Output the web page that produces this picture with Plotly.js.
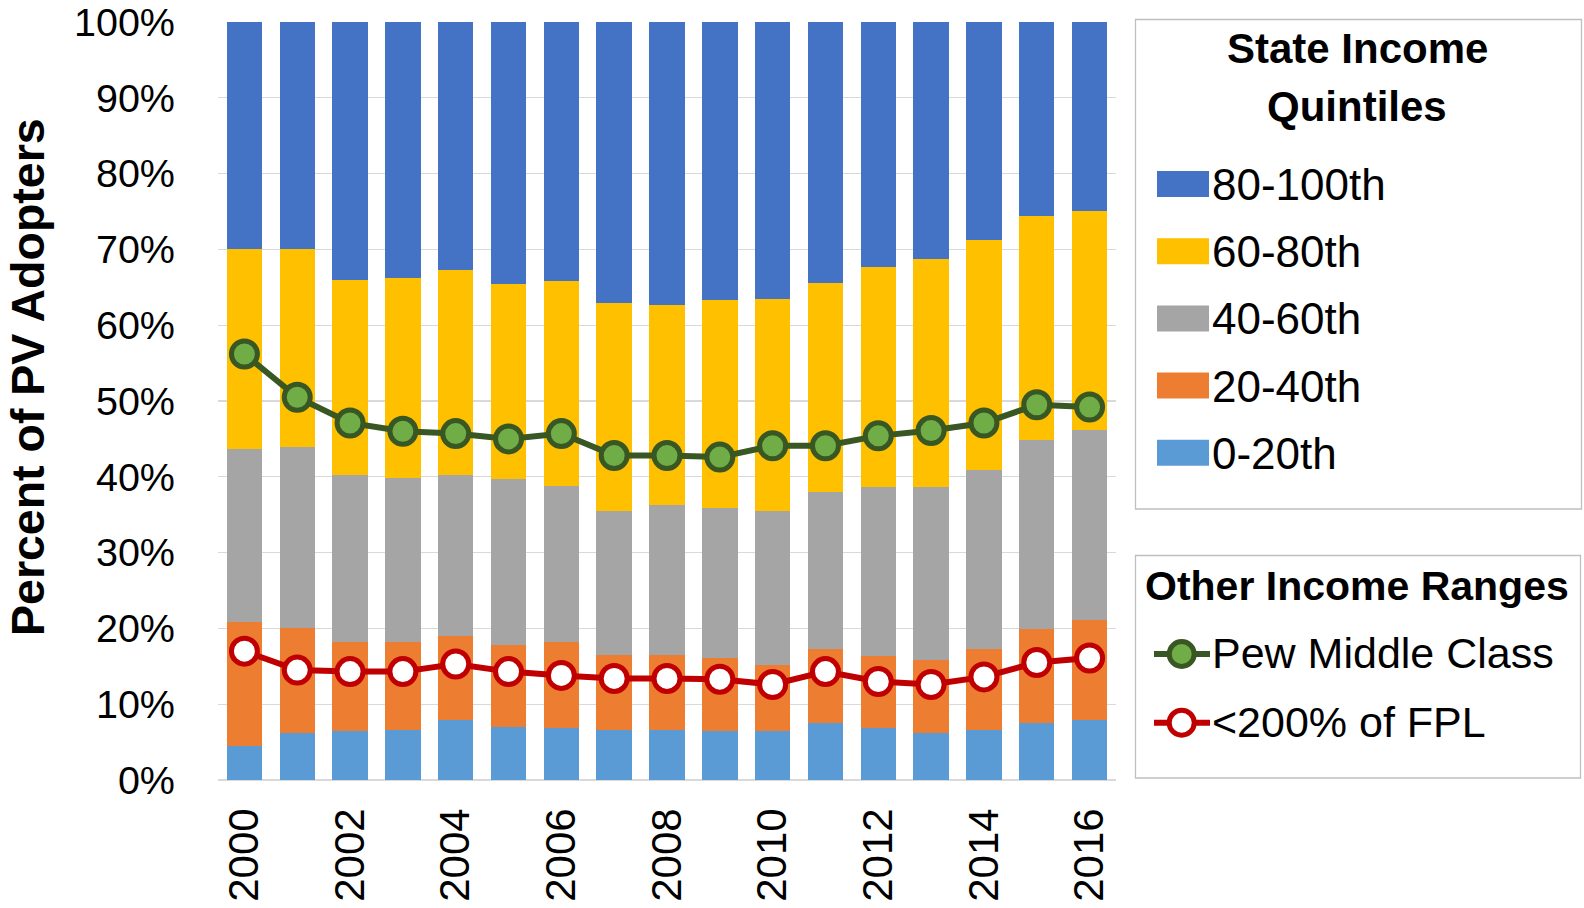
<!DOCTYPE html>
<html>
<head>
<meta charset="utf-8">
<script src="https://cdn.plot.ly/plotly-3.0.1.min.js"></script>
<style>html,body{margin:0;padding:0;background:#fff;}#chart{width:1584px;height:908px;}</style>
</head>
<body>
<div id="chart"></div>
<script>
// ---- data (percent of PV adopters) ----
const years = [2000,2001,2002,2003,2004,2005,2006,2007,2008,2009,2010,2011,2012,2013,2014,2015,2016];
const q0_20   = [4.5,6.2,6.4,6.6,7.9,7.0,6.8,6.6,6.6,6.4,6.4,7.5,6.8,6.2,6.6,7.5,7.9];
const q20_40  = [16.4,13.8,11.8,11.6,11.1,10.8,11.4,9.9,9.9,9.7,8.8,9.8,9.5,9.6,10.7,12.4,13.2];
const q40_60  = [22.8,23.9,22.1,21.7,21.3,21.9,20.6,19.0,19.8,19.8,20.3,20.7,22.3,22.8,23.6,24.9,25.1];
const q60_80  = [26.3,26.1,25.7,26.3,27.0,25.7,27.0,27.4,26.4,27.4,28.0,27.6,29.1,30.2,30.4,29.6,28.9];
const q80_100 = [30.0,30.0,34.0,33.8,32.7,34.6,34.2,37.1,37.3,36.7,36.5,34.4,32.3,31.2,28.7,25.6,24.9];
const pewMiddle = [56.2,50.5,47.1,46.0,45.7,45.0,45.7,42.8,42.8,42.6,44.1,44.1,45.4,46.1,47.1,49.5,49.2];
const fpl200    = [17.0,14.5,14.3,14.3,15.3,14.3,13.8,13.4,13.4,13.3,12.6,14.3,13.0,12.6,13.6,15.5,16.1];

const quintileNames = ['0-20th','20-40th','40-60th','60-80th','80-100th'];
const quintileValues = [q0_20, q20_40, q40_60, q60_80, q80_100];
const quintileColors = ['#5B9BD5','#ED7D31','#A5A5A5','#FFC000','#4472C4'];
const lineNames = ['Pew Middle Class','<200% of FPL'];
const legend1Title = ['State Income','Quintiles'];
const legend2Title = 'Other Income Ranges';
const yTitle = 'Percent of PV Adopters';

// ---- layout geometry ----
const W = 1584, H = 908;
const M = {l:218, r:468, t:22, b:128};
const PW = W - M.l - M.r, PH = H - M.t - M.b;
const px = x => (x - M.l) / PW;
const py = y => (H - M.b - y) / PH;
const FONT = 'Liberation Sans, Arial, sans-serif';

const traces = [];
quintileNames.forEach((n, i) => {
  traces.push({
    type:'bar', name:n, x:years, y:quintileValues[i],
    marker:{color:quintileColors[i], line:{width:0}},
    showlegend:false, hoverinfo:'x+y+name'
  });
});
traces.push({
  type:'scatter', mode:'lines+markers', name:lineNames[0], x:years, y:pewMiddle,
  line:{color:'#385723', width:6},
  marker:{size:26, color:'#70AD47', line:{color:'#385723', width:5}},
  showlegend:false
});
traces.push({
  type:'scatter', mode:'lines+markers', name:lineNames[1], x:years, y:fpl200,
  line:{color:'#C00000', width:6},
  marker:{size:26, color:'#FFFFFF', line:{color:'#C00000', width:5}},
  showlegend:false
});

// ---- custom legends (paper coordinates) ----
const shapes = [];
const annotations = [];
shapes.push({type:'rect', xref:'paper', yref:'paper', x0:px(1135.5), x1:px(1581.5), y0:py(19.5), y1:py(509),
  line:{color:'#BFBFBF', width:1.3}, fillcolor:'rgba(0,0,0,0)'});
shapes.push({type:'rect', xref:'paper', yref:'paper', x0:px(1135.5), x1:px(1580.5), y0:py(555.5), y1:py(778),
  line:{color:'#BFBFBF', width:1.3}, fillcolor:'rgba(0,0,0,0)'});
[[legend1Title[0], 48], [legend1Title[1], 106]].forEach(([t, y]) => {
  annotations.push({xref:'paper', yref:'paper', x:px(1357), y:py(y), xanchor:'center', yanchor:'middle',
    text:t, showarrow:false, font:{family:FONT, size:42, color:'#000', weight:'bold'}});
});
for (let k = 0; k < 5; k++) {
  const i = 4 - k;
  const cy = 184 + 67.2 * k;
  shapes.push({type:'rect', xref:'paper', yref:'paper', x0:px(1157), x1:px(1209), y0:py(cy - 13), y1:py(cy + 13),
    line:{width:0}, fillcolor:quintileColors[i]});
  annotations.push({xref:'paper', yref:'paper', x:px(1210), y:py(cy + 0.5), xanchor:'left', yanchor:'middle',
    text:quintileNames[i], showarrow:false, font:{family:FONT, size:44, color:'#000'}});
}
annotations.push({xref:'paper', yref:'paper', x:px(1357), y:py(586), xanchor:'center', yanchor:'middle',
  text:legend2Title, showarrow:false, font:{family:FONT, size:41, color:'#000', weight:'bold'}});
const lineStyles = [
  {line:'#385723', fill:'#70AD47'},
  {line:'#C00000', fill:'#FFFFFF'}
];
[654, 722.7].forEach((cy, j) => {
  shapes.push({type:'line', xref:'paper', yref:'paper', x0:px(1154), x1:px(1210), y0:py(cy), y1:py(cy),
    line:{color:lineStyles[j].line, width:6}});
  shapes.push({type:'circle', xref:'paper', yref:'paper', x0:px(1169.2), x1:px(1194.2), y0:py(cy - 12.5), y1:py(cy + 12.5),
    line:{color:lineStyles[j].line, width:5}, fillcolor:lineStyles[j].fill});
  annotations.push({xref:'paper', yref:'paper', x:px(1210), y:py(cy - 1), xanchor:'left', yanchor:'middle',
    text:lineNames[j], showarrow:false, font:{family:FONT, size:43, color:'#000'}});
});
// y-axis title (placed like the reference, slightly above the plot centre)
annotations.push({xref:'paper', yref:'paper', x:px(28), y:py(377), xanchor:'center', yanchor:'middle',
  text:yTitle, textangle:-90, showarrow:false, font:{family:FONT, size:46.5, color:'#000', weight:'bold'}});

const layout = {
  width:W, height:H,
  margin:M,
  paper_bgcolor:'#FFFFFF', plot_bgcolor:'#FFFFFF',
  barmode:'stack', bargap:0.33,
  font:{family:FONT, color:'#000'},
  xaxis:{
    range:[1999.5, 2016.5], tick0:2000, dtick:2, tickangle:-90,
    showgrid:false, zeroline:false, showline:false, ticks:'',
    ticklabelstandoff:19, ticklabeloverflow:'allow',
    tickfont:{family:FONT, size:42, color:'#000'}
  },
  yaxis:{
    range:[0, 100], tick0:0, dtick:10, ticksuffix:'%',
    showgrid:true, gridcolor:'#D9D9D9', gridwidth:1.3,
    zeroline:true, zerolinecolor:'#D9D9D9', zerolinewidth:1.5,
    showline:false, ticks:'', ticklabelstandoff:42, ticklabeloverflow:'allow',
    tickfont:{family:FONT, size:39.5, color:'#000'}
  },
  shapes:shapes,
  annotations:annotations,
  showlegend:false
};

Plotly.newPlot('chart', traces, layout, {displayModeBar:false, staticPlot:true});
</script>
</body>
</html>
